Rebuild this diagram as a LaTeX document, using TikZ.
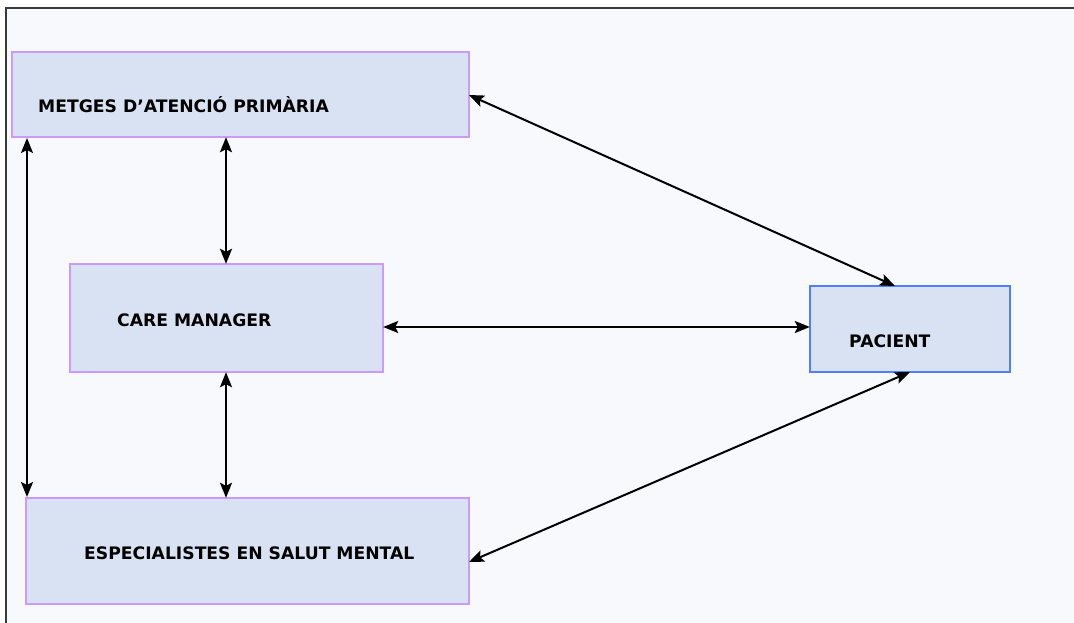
\documentclass[tikz,border=0pt]{standalone}
\usepackage{fontspec}
\setmainfont{DejaVu Sans}
\usetikzlibrary{arrows.meta}
\definecolor{bgc}{HTML}{F7F9FC}
\definecolor{boxfill}{HTML}{D9E2F2}
\definecolor{purpleb}{HTML}{CC99FF}
\definecolor{blueb}{HTML}{4D7FFF}
\definecolor{framec}{HTML}{3A3A3A}
\tikzset{
  px/.style={x=1pt,y=-1pt},
  boxstyle/.style={draw=purpleb,fill=boxfill,line width=1.4pt},
  pacstyle/.style={draw=blueb,fill=boxfill,line width=1.4pt},
  lbl/.style={font=\fontsize{17.2}{19}\selectfont\bfseries,text=black,inner sep=0pt,anchor=base west},
  conn/.style={draw=black,line width=2pt,{Stealth[length=15pt,width=12pt,inset=3pt]}-{Stealth[length=15pt,width=12pt,inset=3pt]}}
}
\begin{document}
\begin{tikzpicture}[px]
\useasboundingbox (0,0) rectangle (1074,623);
\fill[white] (0,0) rectangle (1074,623);
\fill[bgc] (6,8) rectangle (1074,623);
\draw[framec,line width=2.2pt] (6,623) -- (6,8) -- (1074,8);
% boxes
\path[boxstyle] (12,52) rectangle (469,137);
\node[draw=none,inner sep=0pt,minimum width=457pt,minimum height=85pt] (mg) at (240.5,94.5) {};
\path[boxstyle] (70,264) rectangle (383,372);
\node[draw=none,inner sep=0pt,minimum width=313pt,minimum height=108pt] (cm) at (226.5,318) {};
\path[pacstyle] (810,286) rectangle (1010,372);
\node[draw=none,inner sep=0pt,minimum width=200pt,minimum height=86pt] (pa) at (910,329) {};
\path[boxstyle] (26,498) rectangle (469,604);
\node[draw=none,inner sep=0pt,minimum width=443pt,minimum height=106pt] (es) at (247.5,551) {};
% labels
\node[lbl] (tmg) at (38,113) {METGES D’ATENCIÓ PRIMÀRIA};
\node[lbl] (tcm) at (117,326) {CARE MANAGER};
\node[lbl] (tpa) at (849,347) {PACIENT};
\node[lbl] (tes) at (84,559) {ESPECIALISTES EN SALUT MENTAL};
% connectors
\coordinate (a1) at (27,138);
\coordinate (a2) at (27,497);
\draw[conn] (a1) -- (a2);
\draw[conn] (mg.south -| 226,0) -- (cm.north -| 226,0);
\draw[conn] (cm.south -| 226,0) -- (es.north -| 226,0);
\draw[conn] (cm.east |- 0,327) -- (pa.west |- 0,327);
\coordinate (d1) at (469,95);
\coordinate (d2) at (895,286);
\draw[conn] (d1) -- (d2);
\coordinate (e1) at (469,562);
\coordinate (e2) at (910,372);
\draw[conn] (e1) -- (e2);
\end{tikzpicture}
\end{document}
